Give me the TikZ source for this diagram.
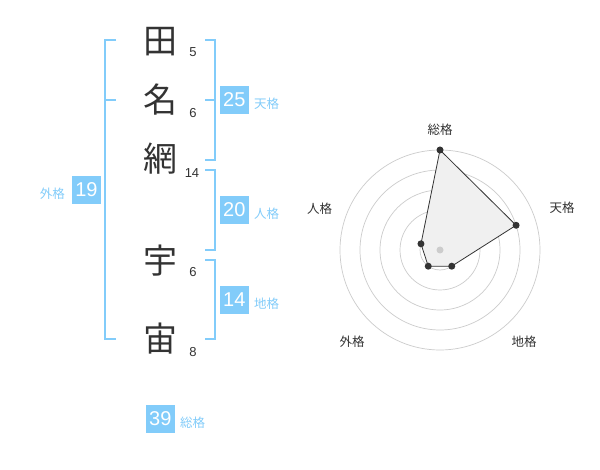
\documentclass[tikz,border=0pt]{standalone}
\usepackage{fontspec}
\setmainfont{Liberation Sans}
\newfontfamily\jp{Noto Sans CJK JP}
\definecolor{sky}{HTML}{82CCFA}
\definecolor{ink}{HTML}{333333}
\definecolor{ringc}{HTML}{CCCCCC}
\definecolor{areac}{HTML}{F0F0F0}
\begin{document}
\begin{tikzpicture}[x=1pt,y=-1pt,
  kanji/.style={font=\jp\fontsize{34}{34}\selectfont, text=ink, inner sep=0pt},
  strokes/.style={font=\fontsize{13}{13}\selectfont, text=ink, inner sep=0pt},
  valbox/.style={fill=sky, text=white, font=\fontsize{20}{20}\selectfont, minimum width=29pt, minimum height=28pt, inner sep=0pt},
  kaku/.style={font=\jp\fontsize{12.5}{12.5}\selectfont, text=sky, inner sep=0pt},
  bracket/.style={draw=sky, line width=2pt},
  ring/.style={draw=ringc, line width=0.7pt},
  axlabel/.style={font=\jp\fontsize{12.5}{12.5}\selectfont, text=ink, inner sep=0pt},
  dot/.style={circle, fill=ink, inner sep=0pt, minimum size=7pt}]
\useasboundingbox (0,0) rectangle (600,470);
\fill[white] (0,0) rectangle (600,470);

% name characters
\node[kanji] (k1) at (160,42) {田};
\node[kanji] (k2) at (160,100) {名};
\node[kanji] (k3) at (160,159) {網};
\node[kanji] (k4) at (160,261) {宇};
\node[kanji] (k5) at (160,339) {宙};

% stroke counts
\node[strokes] (s1) at (193,52) {5};
\node[strokes] (s2) at (193,113) {6};
\node[strokes] (s3) at (192,173) {14};
\node[strokes] (s4) at (193,272.5) {6};
\node[strokes] (s5) at (193,352.5) {8};

% brackets
\draw[bracket] (116,40) -- (105,40) -- (105,339) -- (116,339);
\draw[bracket] (105,100) -- (116,100);
\draw[bracket] (205,40) -- (215,40) -- (215,160) -- (205,160);
\draw[bracket] (205,100) -- (215,100);
\draw[bracket] (205,170) -- (215,170) -- (215,250) -- (205,250);
\draw[bracket] (205,260) -- (215,260) -- (215,339) -- (205,339);

% value boxes
\node[valbox] (ten) at (234.3,100) {25};
\node[kaku, anchor=west] (tenl) at (254,104) {天格};
\node[valbox] (jin) at (234.3,210) {20};
\node[kaku, anchor=west] (jinl) at (254,214) {人格};
\node[valbox] (chi) at (234.3,300) {14};
\node[kaku, anchor=west] (chil) at (254,304) {地格};
\node[valbox] (gai) at (86.5,190) {19};
\node[kaku, anchor=east] (gail) at (65,194) {外格};
\node[valbox] (sou) at (160.3,419) {39};
\node[kaku, anchor=west] (soul) at (180,423) {総格};

% radar chart
\begin{scope}[shift={(440,250)}]
  \foreach \r in {20,40,60,80,100} \draw[ring] (0,0) circle[radius=\r];
  \coordinate (c) at (0,0);
  \coordinate (p1) at (-90:100);
  \coordinate (p2) at (-18:80);
  \coordinate (p3) at (54:20);
  \coordinate (p4) at (126:20);
  \coordinate (p5) at (-162:20);
  \filldraw[fill=areac, draw=ink, line width=0.8pt] (p1) -- (p2) -- (p3) -- (p4) -- (p5) -- cycle;
  \fill[ringc] (c) circle[radius=3.5];
  \foreach \p in {p1,p2,p3,p4,p5} \node[dot] at (\p) {};
\end{scope}
\node[axlabel] (a1) at (440,130) {総格};
\node[axlabel] (a2) at (562,208) {天格};
\node[axlabel] (a3) at (319.5,209) {人格};
\node[axlabel] (a4) at (352,342) {外格};
\node[axlabel] (a5) at (524,342) {地格};
\end{tikzpicture}
\end{document}
